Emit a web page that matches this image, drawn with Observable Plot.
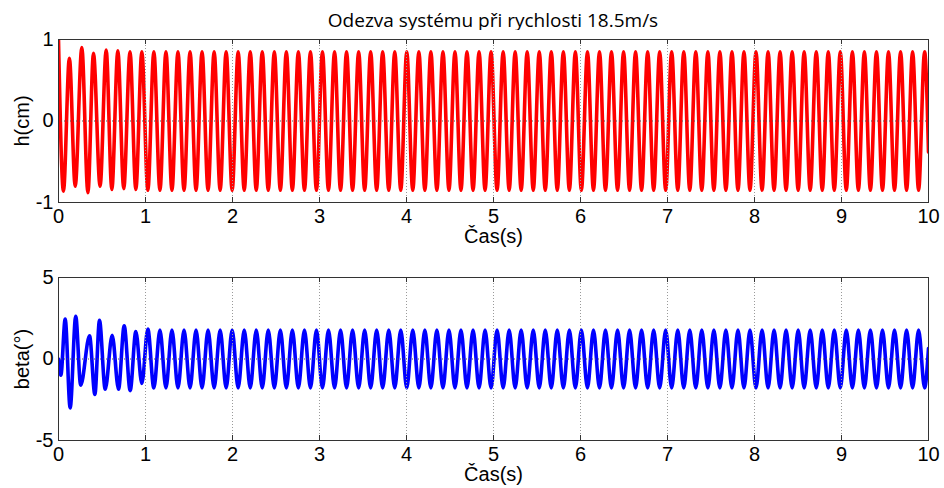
<!DOCTYPE html>
<html><head><meta charset="utf-8">
<script src="https://cdn.jsdelivr.net/npm/d3@7"></script>
<script src="https://cdn.jsdelivr.net/npm/@observablehq/plot@0.6"></script>
<style>
body{margin:0;background:#fff;}
#wrap{position:relative;width:944px;height:488px;overflow:hidden;background:#fff;}
#title{position:absolute;left:58px;width:870px;top:7px;text-align:center;font-family:"Open Sans",sans-serif;font-size:19px;color:#000;white-space:nowrap;}
#plots{position:absolute;left:0;top:30px;}
svg{display:block}
</style></head><body>
<div id="wrap"><div id="title">Odezva systému při rychlosti 18.5m/s</div><div id="plots"></div></div>
<script>
const titleText = "Odezva systému při rychlosti 18.5m/s";
const xLabel = "Čas(s)";
const xTicks = [0, 1, 2, 3, 4, 5, 6, 7, 8, 9, 10];
const hTicks = [-1, 0, 1];
const betaTicks = [-5, 0, 5];

// h(cm): times (s) and values of the extrema
const hTime = [0, 0.057, 0.125, 0.192, 0.268, 0.338, 0.402, 0.478, 0.548, 0.613, 0.682, 0.750, 0.822, 0.889, 0.958,
  1.027, 1.096, 1.166, 1.235, 1.304, 1.373, 1.443, 1.512, 1.581, 1.650, 1.719, 1.789, 1.858, 1.927, 1.996, 2.065,
  2.135, 2.204, 2.273, 2.342, 2.411, 2.481, 2.550, 2.619, 2.688, 2.757, 2.827, 2.896, 2.965, 3.034,
  3.103, 3.173, 3.242, 3.311, 3.380, 3.450, 3.519, 3.588, 3.657, 3.726, 3.796, 3.865, 3.934, 4.003,
  4.072, 4.142, 4.211, 4.280, 4.349, 4.419, 4.488, 4.557, 4.626, 4.695, 4.765, 4.834, 4.903, 4.972,
  5.041, 5.111, 5.180, 5.249, 5.318, 5.387, 5.457, 5.526, 5.595, 5.664, 5.733, 5.803, 5.872, 5.941,
  6.010, 6.080, 6.149, 6.218, 6.287, 6.356, 6.426, 6.495, 6.564, 6.633, 6.702, 6.772, 6.841, 6.910,
  6.979, 7.048, 7.118, 7.187, 7.256, 7.325, 7.394, 7.464, 7.533, 7.602, 7.671, 7.741, 7.810, 7.879,
  7.948, 8.017, 8.087, 8.156, 8.225, 8.294, 8.363, 8.433, 8.502, 8.571, 8.640, 8.710, 8.779, 8.848,
  8.917, 8.986, 9.055, 9.125, 9.194, 9.263, 9.332, 9.402, 9.471, 9.540, 9.609, 9.679, 9.748, 9.817,
  9.886, 9.955, 10];
const hValue = [0.99, -0.86, 0.77, -0.80, 0.90, -0.88, 0.83, -0.80, 0.87, -0.84, 0.86, -0.83, 0.85, -0.84, 0.85,
  -0.85, 0.85, -0.85, 0.85, -0.85, 0.85, -0.85, 0.85, -0.85, 0.85, -0.85, 0.85, -0.85, 0.85, -0.85, 0.85,
  -0.85, 0.85, -0.85, 0.85, -0.85, 0.85, -0.85, 0.85, -0.85, 0.85, -0.85, 0.85, -0.85, 0.85,
  -0.85, 0.85, -0.85, 0.85, -0.85, 0.85, -0.85, 0.85, -0.85, 0.85, -0.85, 0.85, -0.85, 0.85,
  -0.85, 0.85, -0.85, 0.85, -0.85, 0.85, -0.85, 0.85, -0.85, 0.85, -0.85, 0.85, -0.85, 0.85,
  -0.85, 0.85, -0.85, 0.85, -0.85, 0.85, -0.85, 0.85, -0.85, 0.85, -0.85, 0.85, -0.85, 0.85,
  -0.85, 0.85, -0.85, 0.85, -0.85, 0.85, -0.85, 0.85, -0.85, 0.85, -0.85, 0.85, -0.85, 0.85,
  -0.85, 0.85, -0.85, 0.85, -0.85, 0.85, -0.85, 0.85, -0.85, 0.85, -0.85, 0.85, -0.85, 0.85,
  -0.85, 0.85, -0.85, 0.85, -0.85, 0.85, -0.85, 0.85, -0.85, 0.85, -0.85, 0.85, -0.85, 0.85,
  -0.85, 0.85, -0.85, 0.85, -0.85, 0.85, -0.85, 0.85, -0.85, 0.85, -0.85, 0.85, -0.85, 0.85,
  -0.85, 0.85, -0.38];

// beta(°): times (s) and values of the extrema
const betaTime = [0, 0.027, 0.077, 0.134, 0.198, 0.255, 0.357, 0.418, 0.471, 0.537, 0.617, 0.690, 0.755, 0.824, 0.889, 0.958,
  1.027, 1.096, 1.166, 1.235, 1.304, 1.373, 1.443, 1.512, 1.581, 1.650, 1.719, 1.789, 1.858, 1.927, 1.996, 2.065,
  2.135, 2.204, 2.273, 2.342, 2.411, 2.481, 2.550, 2.619, 2.688, 2.757, 2.827, 2.896, 2.965, 3.034,
  3.103, 3.173, 3.242, 3.311, 3.380, 3.450, 3.519, 3.588, 3.657, 3.726, 3.796, 3.865, 3.934, 4.003,
  4.072, 4.142, 4.211, 4.280, 4.349, 4.419, 4.488, 4.557, 4.626, 4.695, 4.765, 4.834, 4.903, 4.972,
  5.041, 5.111, 5.180, 5.249, 5.318, 5.387, 5.457, 5.526, 5.595, 5.664, 5.733, 5.803, 5.872, 5.941,
  6.010, 6.080, 6.149, 6.218, 6.287, 6.356, 6.426, 6.495, 6.564, 6.633, 6.702, 6.772, 6.841, 6.910,
  6.979, 7.048, 7.118, 7.187, 7.256, 7.325, 7.394, 7.464, 7.533, 7.602, 7.671, 7.741, 7.810, 7.879,
  7.948, 8.017, 8.087, 8.156, 8.225, 8.294, 8.363, 8.433, 8.502, 8.571, 8.640, 8.710, 8.779, 8.848,
  8.917, 8.986, 9.055, 9.125, 9.194, 9.263, 9.332, 9.402, 9.471, 9.540, 9.609, 9.679, 9.748, 9.817,
  9.886, 9.955, 10];
const betaValue = [0.0, -1.0, 2.45, -3.0, 2.62, -1.6, 1.42, -2.18, 2.37, -1.85, 1.45, -1.85, 2.04, -1.94, 1.69, -1.5,
  1.84, -1.78, 1.77, -1.77, 1.77, -1.77, 1.77, -1.77, 1.77, -1.77, 1.77, -1.77, 1.77, -1.77, 1.77, -1.77,
  1.77, -1.77, 1.77, -1.77, 1.77, -1.77, 1.77, -1.77, 1.77, -1.77, 1.77, -1.77, 1.77, -1.77,
  1.77, -1.77, 1.77, -1.77, 1.77, -1.77, 1.77, -1.77, 1.77, -1.77, 1.77, -1.77, 1.77, -1.77,
  1.77, -1.77, 1.77, -1.77, 1.77, -1.77, 1.77, -1.77, 1.77, -1.77, 1.77, -1.77, 1.77, -1.77,
  1.77, -1.77, 1.77, -1.77, 1.77, -1.77, 1.77, -1.77, 1.77, -1.77, 1.77, -1.77, 1.77, -1.77,
  1.77, -1.77, 1.77, -1.77, 1.77, -1.77, 1.77, -1.77, 1.77, -1.77, 1.77, -1.77, 1.77, -1.77,
  1.77, -1.77, 1.77, -1.77, 1.77, -1.77, 1.77, -1.77, 1.77, -1.77, 1.77, -1.77, 1.77, -1.77,
  1.77, -1.77, 1.77, -1.77, 1.77, -1.77, 1.77, -1.77, 1.77, -1.77, 1.77, -1.77, 1.77, -1.77,
  1.77, -1.77, 1.77, -1.77, 1.77, -1.77, 1.77, -1.77, 1.77, -1.77, 1.77, -1.77, 1.77, -1.77,
  1.77, -1.77, 0.65];

function panel({time, value, color, yDomain, yTicks, yLabel, height, marginTop, marginBottom}) {
  const data = time.map((t, i) => ({t, v: value[i]}));
  const innerH = height - marginTop - marginBottom;
  const fmt = d => String(d);
  return Plot.plot({
    width: 944, height, marginLeft: 58, marginRight: 16, marginTop, marginBottom,
    style: {fontFamily: "'Liberation Sans', Arial, sans-serif", fontSize: "20px", color: "#000", background: "#fff", overflow: "visible"},
    x: {domain: [0, 10]},
    y: {domain: yDomain},
    marks: [
      Plot.line(data, {x: "t", y: "v", stroke: color, strokeWidth: 3.6, curve: "monotone-x", clip: true}),
      Plot.ruleX(xTicks.slice(1, -1), {stroke: "#9a9a9a", strokeWidth: 1, strokeDasharray: "1,2"}),
      Plot.ruleY([0], {stroke: "#555", strokeWidth: 1, strokeDasharray: "1,2"}),
      Plot.tickX(xTicks, {x: d => d, insetTop: innerH - 5, stroke: "#333"}),
      Plot.tickX(xTicks, {x: d => d, insetBottom: innerH - 5, stroke: "#333"}),
      Plot.frame({stroke: "#333"}),
      Plot.axisX({ticks: xTicks, tickFormat: fmt, tickSize: 0, tickPadding: 6, label: xLabel, labelAnchor: "center", labelArrow: "none", labelOffset: 40}),
      Plot.axisY({ticks: yTicks, tickFormat: fmt, tickSize: 0, tickPadding: 5, label: yLabel, labelAnchor: "center", labelArrow: "none", labelOffset: 44})
    ]
  });
}

const host = document.getElementById("plots");
host.append(panel({time: hTime, value: hValue, color: "#ff0000", yDomain: [-1, 1], yTicks: hTicks, yLabel: "h(cm)", height: 226, marginTop: 9, marginBottom: 54}));
host.append(panel({time: betaTime, value: betaValue, color: "#0000ff", yDomain: [-5, 5], yTicks: betaTicks, yLabel: "beta(°)", height: 232, marginTop: 21, marginBottom: 48}));
</script>
</body></html>
